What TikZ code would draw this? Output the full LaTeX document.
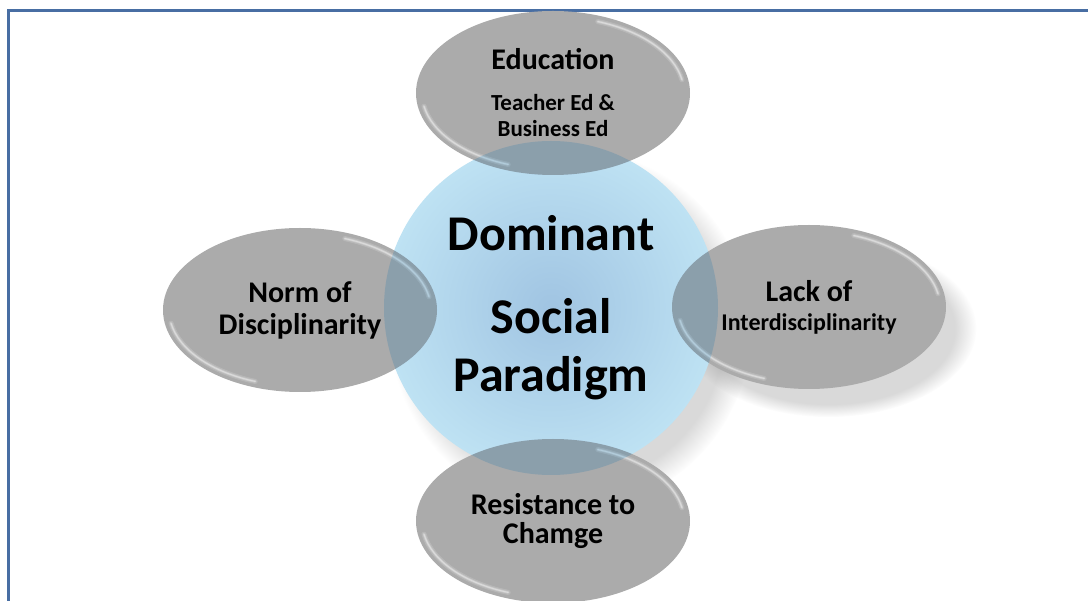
\documentclass[tikz,border=0pt]{standalone}
\usepackage{fontspec}
\setmainfont{Carlito}
\usetikzlibrary{shapes.geometric}
\usetikzlibrary{shadows}

\definecolor{framebl}{RGB}{72,110,163}
\definecolor{petalgray}{RGB}{171,171,171}
\definecolor{corebl}{RGB}{160,196,226}
\definecolor{corerim}{RGB}{190,226,243}
\definecolor{overlapbl}{RGB}{208,238,255}

\tikzset{
  glint/.style={white, line cap=round},
  % soft light glints along the lower left and upper right of each ellipse
  petal/.style={ellipse, minimum width=274pt, minimum height=164pt, inner sep=0pt,
    fill=petalgray, align=center, font=\fontsize{30}{31}\selectfont\bfseries,
    path picture={
      \foreach \a/\w/\o in {5pt/.15, 2.5pt/.25, 1pt/.35}{
        \draw[glint, line width=\a, opacity=\w]
          ([shift={(190:131pt and 76pt)}]path picture bounding box.center)
          arc [start angle=190, end angle=250, x radius=131pt, y radius=76pt];
        \draw[glint, line width=\a, opacity=\w]
          ([shift={(10:131pt and 76pt)}]path picture bounding box.center)
          arc [start angle=10, end angle=70, x radius=131pt, y radius=76pt];}}},
  shade/.style={circular drop shadow={shadow xshift=18pt, shadow yshift=-20pt, shadow scale=1.08, opacity=.3}},
  core/.style={circle, minimum size=334pt, inner sep=0pt, inner color=corebl, outer color=corerim,
    align=center, font=\fontsize{50}{58}\selectfont\bfseries, shade},
}

\begin{document}
\begin{tikzpicture}[x=1pt, y=-1pt]
    \useasboundingbox (0,0) rectangle (1088,601);
    % frame, open to the right and at the bottom
    \draw[framebl, line width=3pt] (8,602) -- (8,11) -- (1090,11);

    % shadow of the right ellipse goes under everything
    \node[ellipse, minimum width=274pt, minimum height=164pt, shade] (lackshade) at (809,307) {};
    \node[core] (dsp) at (551,308) {Dominant\\[25pt]Social\\Paradigm};

    \node[petal, font=\fontsize{23}{26}\selectfont\bfseries] (edu) at (553,93)
        {{\fontsize{30}{34}\selectfont Education}\\[15pt]Teacher Ed \&\\Business Ed};
    \node[petal, font=\fontsize{30}{32}\selectfont\bfseries] (norm) at (300,310) {Norm of\\Disciplinarity};
    \node[petal, font=\fontsize{30}{29}\selectfont\bfseries] (lack) at (809,307)
        {Lack of\\{\fontsize{24}{29}\selectfont Interdisciplinarity}};
    \node[petal, font=\fontsize{30}{29}\selectfont\bfseries] (resist) at (553,521) {Resistance to\\Chamge};

    % where an ellipse lies on the circle it turns blue-grey
    \begin{scope}[blend mode=multiply]
        \clip (dsp.center) circle (167pt);
        \foreach \p in {edu,norm,lack,resist}
            \fill[overlapbl] (\p.center) ellipse [x radius=137pt, y radius=82pt];
    \end{scope}
\end{tikzpicture}
\end{document}
